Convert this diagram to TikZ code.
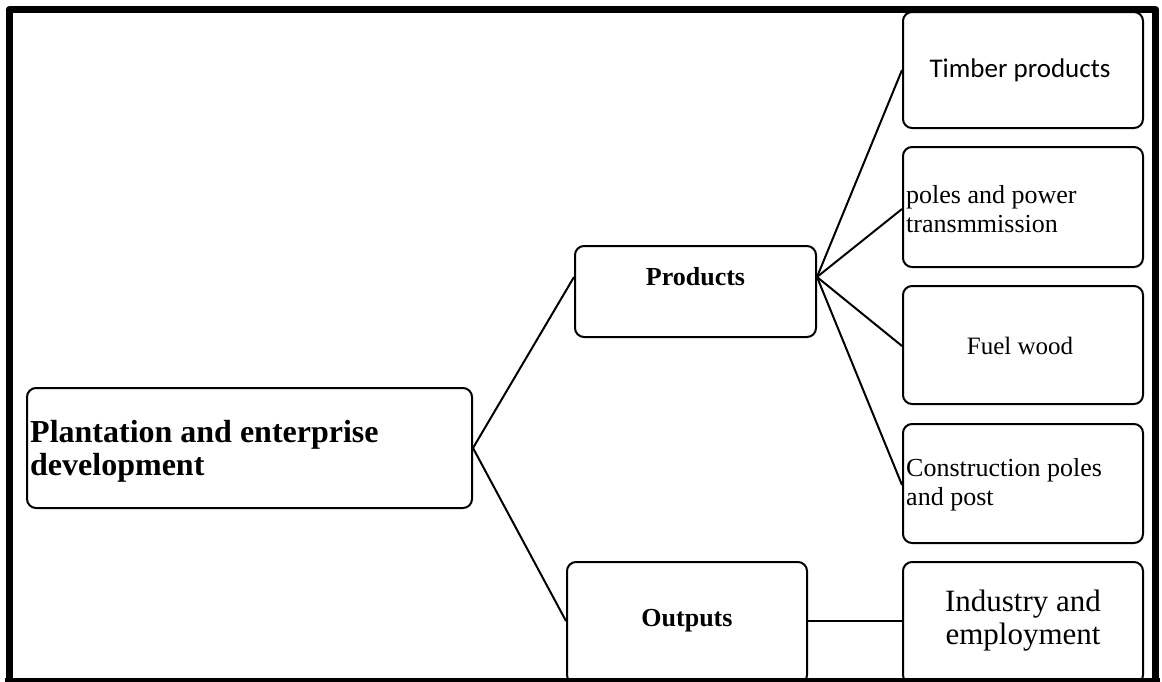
\documentclass[tikz,border=0pt]{standalone}
\usepackage{fontspec}
\setmainfont{Liberation Serif}
\newfontfamily\calibrifont{Carlito}

\tikzset{
    box/.style={draw, line width=2pt, rounded corners=9pt, inner sep=0pt},
    lbl/.style={inner sep=0pt, font=\fontsize{26}{29}\selectfont},
    link/.style={line width=2pt},
    frame/.style={line width=7pt, line join=round},
}

\begin{document}
\begin{tikzpicture}[x=1pt, y=-1pt]
    \useasboundingbox (0,0) rectangle (1162,681);
    \clip (0,0) rectangle (1162,681);
    % boxes
    \node[box, minimum width=445, minimum height=120] (plant) at (249.5,448) {};
    \node[box, minimum width=241, minimum height=91] (prod) at (695.5,291.5) {};
    \node[box, minimum width=240, minimum height=122] (outp) at (687,623) {};
    \node[box, minimum width=240, minimum height=116] (timber) at (1023,70) {};
    \node[box, minimum width=240, minimum height=120] (poles) at (1023,207) {};
    \node[box, minimum width=240, minimum height=118] (fuel) at (1023,345) {};
    \node[box, minimum width=240, minimum height=119] (constr) at (1023,483.5) {};
    \node[box, minimum width=240, minimum height=122] (indus) at (1023,623) {};
    % texts
    \node[lbl, anchor=west, align=left, font=\fontsize{32}{33}\selectfont\bfseries] (planttxt) at (30,451) {Plantation and enterprise\\development};
    \node[lbl, font=\fontsize{26}{28}\selectfont\bfseries] (prodtxt) at (695.5,277) {Products};
    \node[lbl, font=\fontsize{26}{28}\selectfont\bfseries] (outptxt) at (687,621) {Outputs};
    \node[lbl, font=\fontsize{27}{29}\calibrifont] (timbertxt) at (1020,70) {Timber products};
    \node[lbl, anchor=west, align=left] (polestxt) at (906,209) {poles and power\\transmmission};
    \node[lbl, font=\fontsize{25}{27}\selectfont] (fueltxt) at (1020,346) {Fuel wood};
    \node[lbl, anchor=west, align=left] (constrtxt) at (906,485) {Construction poles\\and post};
    \node[lbl, align=center, font=\fontsize{31}{33}\selectfont] (industxt) at (1023,621) {Industry and\\employment};
    % connectors
    \draw[link] (plant.east) -- (prod.west |- prodtxt);
    \draw[link] (plant.east) -- (outp.west |- outptxt);
    \foreach \b/\t in {timber/timbertxt, poles/polestxt, fuel/fueltxt, constr/constrtxt}
        \draw[link] (prod.east |- prodtxt) -- (\b.west |- \t);
    \draw[link] (outp.east |- outptxt) -- (indus.west |- outptxt);
    % page frame
    \draw[frame] (9,690) -- (9,9.5) -- (1155.5,9.5) -- (1155.5,690);
    \draw[line width=4pt] (5,679.5) -- (1160,679.5);
\end{tikzpicture}
\end{document}
